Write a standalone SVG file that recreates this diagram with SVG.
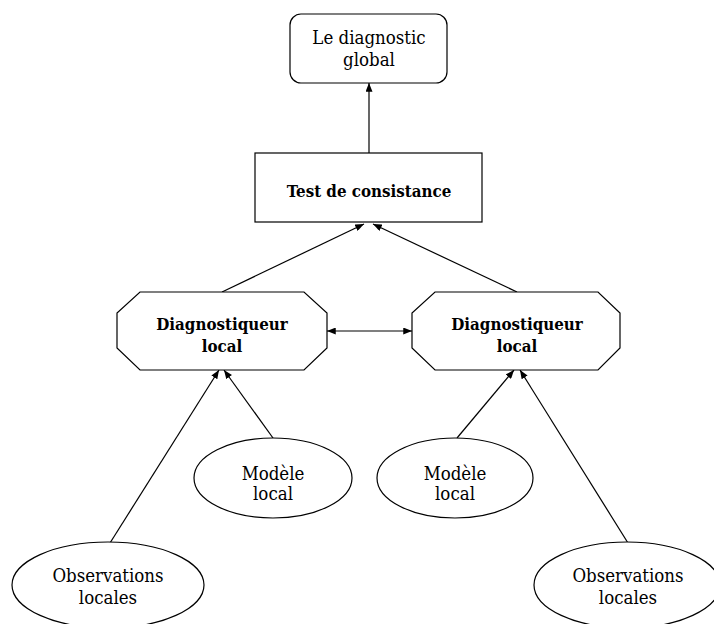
<svg xmlns="http://www.w3.org/2000/svg" width="714" height="624" viewBox="0 0 714 624">
<defs>
<marker id="ah" viewBox="0 0 10 8" refX="10" refY="4" markerWidth="9" markerHeight="7" markerUnits="userSpaceOnUse" orient="auto-start-reverse">
<path d="M0,0 L10,4 L0,8 Z" fill="#000"/>
</marker>
<style>
.shape{fill:#fff;stroke:#000;stroke-width:1.2}
.t{font-family:"DejaVu Serif Condensed","Liberation Serif",serif;font-size:18.5px;fill:#000;text-anchor:middle}
.b{font-weight:bold;font-size:16.8px}
.c{stroke:#000;stroke-width:1.2;fill:none;marker-end:url(#ah)}
</style>
</defs>
<rect width="714" height="624" fill="#fff"/>
<g id="connectors">
<line class="c" x1="369" y1="153" x2="369" y2="83"/>
<line class="c" x1="222" y1="292" x2="364" y2="224"/>
<line class="c" x1="517" y1="292" x2="373" y2="224"/>
<line class="c" x1="327" y1="331" x2="412" y2="331" style="marker-start:url(#ah)"/>
<line class="c" x1="110" y1="543" x2="219" y2="370"/>
<line class="c" x1="273" y1="438" x2="224" y2="370"/>
<line class="c" x1="457" y1="438" x2="514" y2="370"/>
<line class="c" x1="628" y1="543" x2="520" y2="370"/>
</g>
<g id="global">
<rect class="shape" x="290" y="14" width="157" height="69" rx="11"/>
<text class="t" x="369" y="44">Le diagnostic</text>
<text class="t" x="369" y="66">global</text>
</g>
<g id="test">
<rect class="shape" x="255" y="153" width="227" height="69"/>
<text class="t b" x="369" y="197">Test de consistance</text>
</g>
<g id="diag-left">
<polygon class="shape" points="140,292 304,292 327,313 327,348 304,370 140,370 117,348 117,313"/>
<text class="t b" x="222" y="330">Diagnostiqueur</text>
<text class="t b" x="222" y="352">local</text>
</g>
<g id="diag-right">
<polygon class="shape" points="435,292 598,292 620,313 620,348 598,370 435,370 412,348 412,313"/>
<text class="t b" x="517" y="330">Diagnostiqueur</text>
<text class="t b" x="517" y="352">local</text>
</g>
<g id="modele-left">
<ellipse class="shape" cx="273" cy="478" rx="79" ry="40"/>
<text class="t" x="273" y="480">Modèle</text>
<text class="t" x="273" y="500">local</text>
</g>
<g id="modele-right">
<ellipse class="shape" cx="455" cy="478" rx="78" ry="40"/>
<text class="t" x="455" y="480">Modèle</text>
<text class="t" x="455" y="500">local</text>
</g>
<g id="obs-left">
<ellipse class="shape" cx="108" cy="585" rx="96" ry="43"/>
<text class="t" x="108" y="582">Observations</text>
<text class="t" x="108" y="604">locales</text>
</g>
<g id="obs-right">
<ellipse class="shape" cx="627" cy="585" rx="93" ry="43"/>
<text class="t" x="628" y="582">Observations</text>
<text class="t" x="628" y="604">locales</text>
</g>
</svg>
